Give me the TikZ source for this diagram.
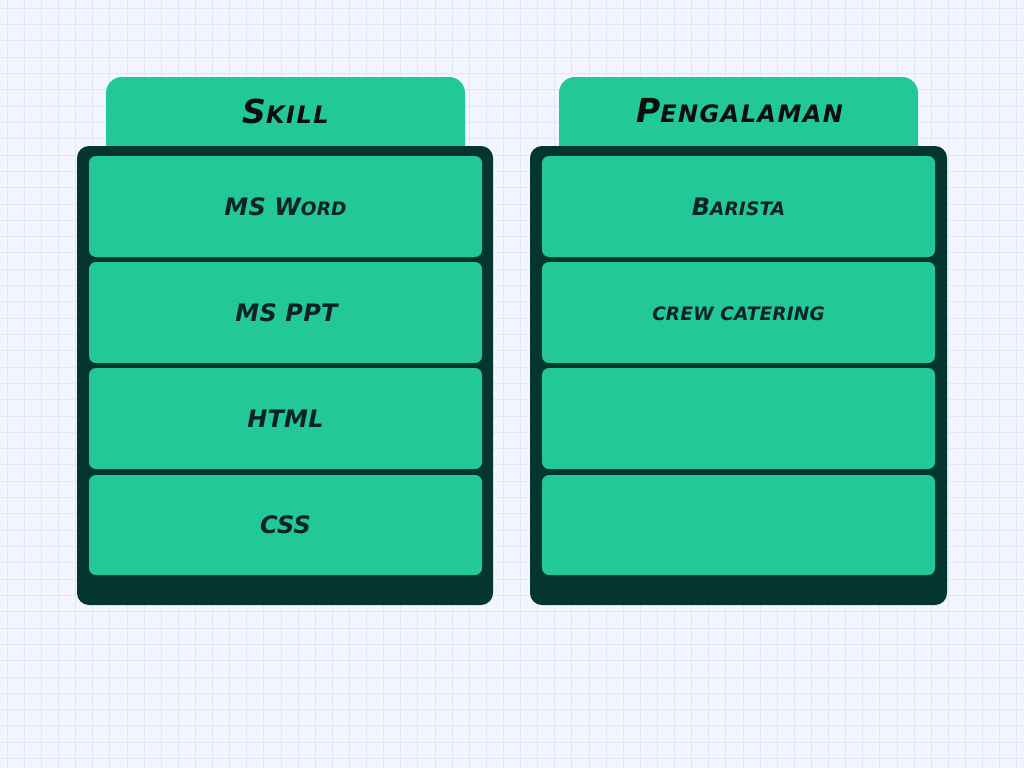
\documentclass[tikz,border=0pt]{standalone}
\usepackage{fontspec}
\setmainfont{DejaVu Sans}
\newfontfamily\markfont[LetterSpace=6]{DejaVu Sans}
\newfontfamily\cellfont[LetterSpace=1]{DejaVu Sans}
\definecolor{bgc}{HTML}{F3F6FE}
\definecolor{gridc}{HTML}{DFE7FC}
\definecolor{greenc}{HTML}{22C997}
\definecolor{darkc}{HTML}{053530}
\definecolor{titlec}{HTML}{0D0D0D}
\definecolor{cellt}{HTML}{0B2228}
\newcommand{\titlesc}[2]{{\fontsize{33}{33}\selectfont #1}{\fontsize{24}{24}\selectfont #2}}
\newcommand{\cellsc}[2]{{\fontsize{24}{24}\selectfont #1}{\fontsize{18.5}{18.5}\selectfont #2}}
\tikzset{
  tabbox/.style={fill=greenc, draw=none, rounded corners=16pt},
  bodybox/.style={fill=darkc, draw=none, rounded corners=12pt},
  cellbox/.style={fill=greenc, draw=none, rounded corners=7pt},
  titletext/.style={text=titlec, font=\markfont\bfseries\itshape},
  celltext/.style={text=cellt, font=\cellfont\bfseries\itshape}
}
\begin{document}
\begin{tikzpicture}[x=1pt,y=-1pt]
\useasboundingbox (0,0) rectangle (1024,768);
\fill[bgc] (0,0) rectangle (1024,768);
\foreach \i in {0,...,59} {
  \draw[gridc, line width=1pt] ({7.3+17.11*\i},0) -- ({7.3+17.11*\i},768);
}
\foreach \j in {0,...,47} {
  \draw[gridc, line width=1pt] (0,{8.3+16.31*\j}) -- (1024,{8.3+16.31*\j});
}
% left panel
\path[tabbox] (106,77) rectangle (465,170);
\path[bodybox] (77,146) rectangle (493,605);
\path[cellbox] (89,156) rectangle (482,257);
\path[cellbox] (89,262) rectangle (482,363);
\path[cellbox] (89,368) rectangle (482,469);
\path[cellbox] (89,475) rectangle (482,575);
\node[titletext] (t1) at (285.5,111) {\titlesc{S}{KILL}};
\node[celltext] (c11) at (285.5,207) {\cellsc{MS W}{ORD}};
\node[celltext] (c12) at (286.5,313) {\cellsc{MS PPT}{}};
\node[celltext] (c13) at (285.5,419) {\cellsc{HTML}{}};
\node[celltext] (c14) at (285.5,525) {\cellsc{CSS}{}};
% right panel
\path[tabbox] (559,77) rectangle (918,170);
\path[bodybox] (530,146) rectangle (947,605);
\path[cellbox] (542,156) rectangle (935,257);
\path[cellbox] (542,262) rectangle (935,363);
\path[cellbox] (542,368) rectangle (935,469);
\path[cellbox] (542,475) rectangle (935,575);
\node[titletext] (t2) at (739.5,111) {\titlesc{P}{ENGALAMAN}};
\node[celltext] (c21) at (738.5,207) {\cellsc{B}{ARISTA}};
\node[celltext] (c22) at (738.5,314) {\cellsc{}{CREW CATERING}};
\end{tikzpicture}
\end{document}
